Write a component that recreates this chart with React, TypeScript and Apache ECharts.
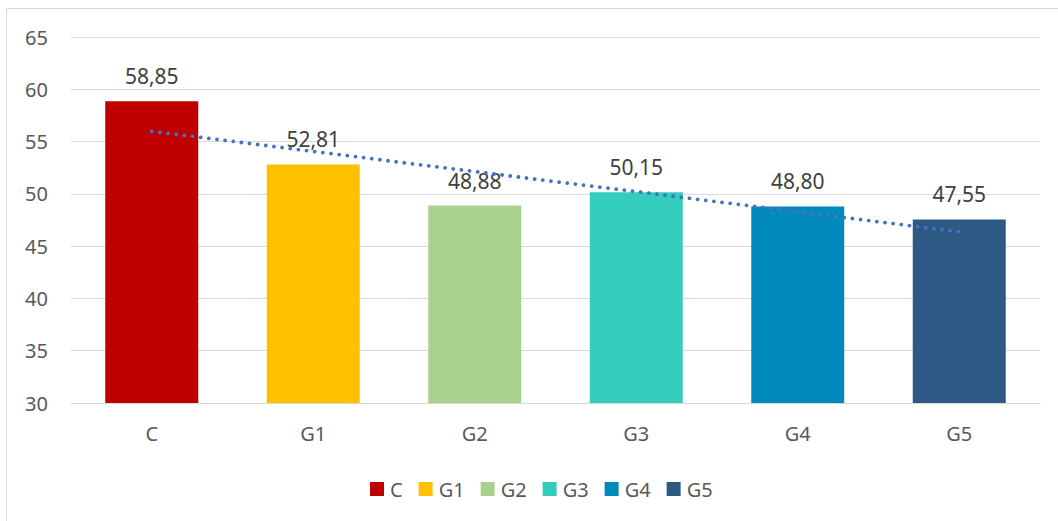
import React, { useEffect, useRef } from "react";
import * as echarts from "echarts";

const categories = ["C", "G1", "G2", "G3", "G4", "G5"];
const values = [58.85, 52.81, 48.88, 50.15, 48.8, 47.55];
const barColors = ["#C00000", "#FFC000", "#A9D18E", "#33CCBD", "#008ABC", "#2C5A85"];
const trendValues = [55.98, 54.06, 52.13, 50.21, 48.29, 46.37];
const yTicks = { min: 30, max: 65, interval: 5 };

const FONT = "Noto Sans";

export default function App() {
  const ref = useRef<HTMLDivElement>(null);
  useEffect(() => {
    if (!ref.current) return;
    const chart = echarts.init(ref.current, null, { renderer: "svg" });
    const barSeries = categories.map((name, i) => ({
      name,
      type: "bar",
      stack: "s",
      barWidth: 93,
      itemStyle: { color: barColors[i] },
      data: categories.map((_, j) => (j === i ? values[i] : null)),
      label: {
        show: true,
        position: "top",
        distance: 14,
        fontFamily: FONT,
        fontSize: 21,
        lineHeight: 22,
        color: "#404040",
        formatter: (p: any) => (p.value == null ? "" : Number(p.value).toFixed(2).replace(".", ",")),
      },
    }));
    chart.setOption({
      animation: false,
      textStyle: { fontFamily: FONT },
      grid: { left: 64, top: 28, width: 969, height: 366, containLabel: false },
      legend: {
        data: categories,
        left: 363,
        top: 470,
        padding: 0,
        itemWidth: 14,
        itemHeight: 14,
        itemGap: 16,
        icon: "rect",
        textStyle: { fontFamily: FONT, fontSize: 20, lineHeight: 14, color: "#595959", padding: [0, 0, 0, 1] },
      },
      xAxis: {
        type: "category",
        data: categories,
        axisTick: { show: false },
        axisLine: { lineStyle: { color: "#D9D9D9", width: 1 } },
        axisLabel: { fontFamily: FONT, fontSize: 20, color: "#595959", margin: 20 },
      },
      yAxis: {
        type: "value",
        min: yTicks.min,
        max: yTicks.max,
        interval: yTicks.interval,
        axisLine: { show: false },
        axisTick: { show: false },
        splitLine: { lineStyle: { color: "#D9D9D9", width: 1 } },
        axisLabel: { fontFamily: FONT, fontSize: 20, color: "#595959", margin: 23 },
      },
      series: [
        ...barSeries,
        {
          name: "trend",
          type: "line",
          data: trendValues,
          symbol: "none",
          z: 5,
          lineStyle: { color: "#4472C4", width: 3.8, type: [0.01, 8.2], cap: "round" },
        },
      ],
    });
    return () => chart.dispose();
  }, []);
  return (
    <div style={{ position: "fixed", left: 0, top: 0, width: 1058, height: 521, overflow: "hidden", background: "#fff" }}>
      <div
        style={{
          position: "absolute",
          left: 6,
          top: 8,
          width: 1100,
          height: 560,
          border: "1px solid #D9D9D9",
          background: "#fff",
        }}
      >
        <div ref={ref} style={{ width: 1100, height: 560 }} />
      </div>
    </div>
  );
}
